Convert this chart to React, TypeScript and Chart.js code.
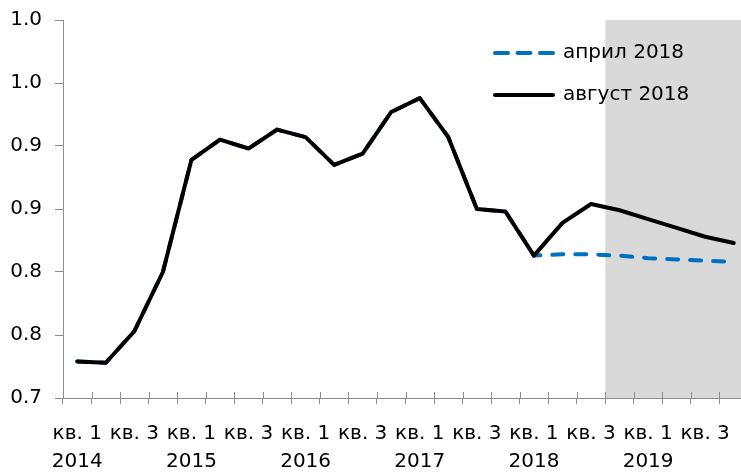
import { useEffect, useRef } from "react";
import { Chart, registerables } from "chart.js";

Chart.register(...registerables);

// Quarters 2014 кв. 1 … 2019 кв. 4
const years = ["2014", "2015", "2016", "2017", "2018", "2019"];
const quarters = ["кв. 1", "кв. 2", "кв. 3", "кв. 4"];
const categories: string[] = years.flatMap((y) => quarters.map((q) => `${q} ${y}`));

// Forecast published in April 2018
const april2018 = [
  0.729, 0.728, 0.753, 0.8, 0.889, 0.905, 0.898, 0.913,
  0.907, 0.885, 0.894, 0.927, 0.938, 0.907, 0.85, 0.848,
  0.813, 0.814, 0.814, 0.813, 0.811, 0.81, 0.809, 0.808,
];

// Forecast published in August 2018
const august2018 = [
  0.729, 0.728, 0.753, 0.8, 0.889, 0.905, 0.898, 0.913,
  0.907, 0.885, 0.894, 0.927, 0.938, 0.907, 0.85, 0.848,
  0.813, 0.839, 0.854, 0.849, 0.842, 0.835, 0.828, 0.823,
];

// Value axis labels, bottom to top (one decimal place)
const yTickLabels = ["0.7", "0.8", "0.8", "0.9", "0.9", "1.0", "1.0"];

// Forecast period starts with 2018 кв. 4
const forecastStart = 19;

const FONT = "'DejaVu Sans', Verdana, sans-serif";
const AXIS_GRAY = "#8c8c8c";
const BLUE = "#0070C0";

function tickLabel(i: number): string | string[] {
  const q = i % 4;
  const y = years[Math.floor(i / 4)];
  if (q === 0) return [quarters[0], y];
  if (q === 2) return quarters[2];
  return "";
}

const forecastShade = {
  id: "forecastShade",
  beforeDraw(chart: any) {
    const { ctx, chartArea } = chart;
    const x = chart.scales.x;
    const w = (chartArea.right - chartArea.left) / categories.length;
    const x0 = x.getPixelForValue(forecastStart) - w / 2;
    ctx.save();
    ctx.fillStyle = "#d9d9d9";
    ctx.fillRect(x0, chartArea.top, chartArea.right - x0, chartArea.bottom - chartArea.top);
    ctx.restore();
  },
};

// Category tick marks cross the axis line
const crossTicks = {
  id: "crossTicks",
  afterDraw(chart: any) {
    const { ctx, chartArea } = chart;
    const x = chart.scales.x;
    const w = (chartArea.right - chartArea.left) / categories.length;
    ctx.save();
    ctx.strokeStyle = AXIS_GRAY;
    ctx.lineWidth = 1;
    ctx.beginPath();
    for (let i = 0; i <= categories.length; i++) {
      const px = Math.round(x.getPixelForValue(0) - w / 2 + i * w) + 0.5;
      ctx.moveTo(px, chartArea.bottom - 6);
      ctx.lineTo(px, chartArea.bottom);
    }
    ctx.stroke();
    ctx.restore();
  },
};

const legendBox = {
  id: "legendBox",
  afterDraw(chart: any) {
    const { ctx } = chart;
    const items = [
      { ds: chart.data.datasets[0], y: 53, dash: [13, 9.5] },
      { ds: chart.data.datasets[1], y: 95, dash: [] as number[] },
    ];
    ctx.save();
    for (const it of items) {
      ctx.strokeStyle = it.ds.borderColor;
      ctx.lineWidth = 4;
      ctx.lineCap = "round";
      ctx.setLineDash(it.dash);
      ctx.beginPath();
      ctx.moveTo(495, it.y);
      ctx.lineTo(553, it.y);
      ctx.stroke();
      ctx.setLineDash([]);
      ctx.fillStyle = "#000";
      ctx.font = `20px ${FONT}`;
      ctx.textAlign = "left";
      ctx.textBaseline = "middle";
      ctx.fillText(it.ds.label, 563, it.y);
    }
    ctx.restore();
  },
};

export default function App() {
  const ref = useRef<HTMLCanvasElement | null>(null);

  useEffect(() => {
    if (!ref.current) return;
    const chart = new Chart(ref.current, {
      type: "line",
      data: {
        labels: categories,
        datasets: [
          {
            label: "април 2018",
            data: april2018,
            borderColor: BLUE,
            borderWidth: 4,
            borderDash: [11, 12],
            borderCapStyle: "round",
            borderJoinStyle: "round",
            pointRadius: 0,
            tension: 0,
            order: 1,
          },
          {
            label: "август 2018",
            data: august2018,
            borderColor: "#000",
            borderWidth: 4,
            borderCapStyle: "round",
            borderJoinStyle: "round",
            pointRadius: 0,
            tension: 0,
            order: 0,
          },
        ],
      },
      options: {
        responsive: false,
        animation: false,
        layout: { padding: { top: 20, right: 0, bottom: 0, left: 0 } },
        plugins: {
          legend: { display: false },
          tooltip: { enabled: false },
        },
        scales: {
          x: {
            type: "category",
            offset: true,
            grid: {
              offset: true,
              drawOnChartArea: false,
              drawTicks: true,
              tickLength: 6,
              color: AXIS_GRAY,
            },
            border: { color: AXIS_GRAY, width: 1 },
            ticks: {
              autoSkip: false,
              maxRotation: 0,
              minRotation: 0,
              padding: 16,
              color: "#000",
              font: { family: FONT, size: 20, lineHeight: 1.4 },
              callback: (_v: any, i: number) => tickLabel(i),
            },
            afterFit(s: any) {
              s.height = 75;
              s.paddingLeft = 0;
              s.paddingRight = 0;
            },
          },
          y: {
            min: 0.7,
            max: 1.0,
            grid: {
              drawOnChartArea: false,
              drawTicks: true,
              tickLength: 8,
              color: AXIS_GRAY,
            },
            border: { color: AXIS_GRAY, width: 1 },
            ticks: {
              stepSize: 0.05,
              padding: 13,
              color: "#000",
              font: { family: FONT, size: 20 },
              callback: (_v: any, i: number) => yTickLabels[i],
            },
            afterFit(s: any) {
              s.width = 63;
              s.paddingTop = 0;
              s.paddingBottom = 0;
            },
          },
        },
      },
      plugins: [forecastShade, crossTicks, legendBox],
    });
    return () => chart.destroy();
  }, []);

  // The plot runs a few pixels past the right edge of the frame
  return (
    <div
      style={{
        position: "absolute",
        left: 0,
        top: 0,
        width: 741,
        height: 473,
        overflow: "hidden",
        background: "#fff",
      }}
    >
      <canvas ref={ref} width={748} height={473} style={{ display: "block" }} />
    </div>
  );
}
